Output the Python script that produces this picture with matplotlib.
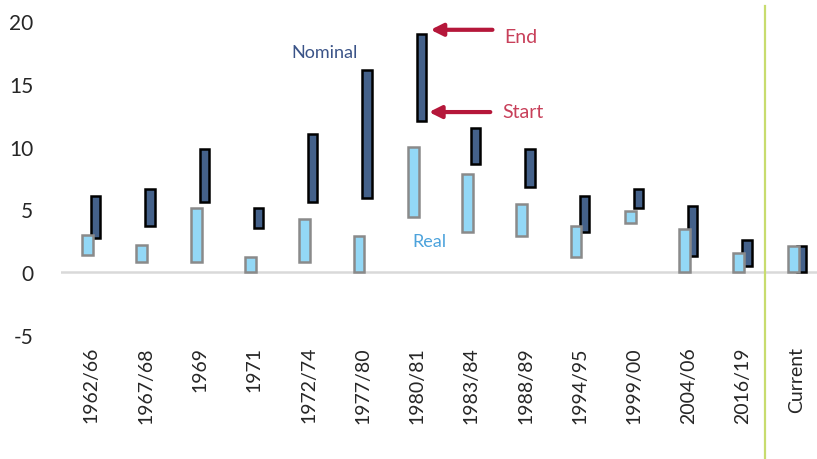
import matplotlib
matplotlib.use("Agg")
import matplotlib.pyplot as plt
import numpy as np

plt.rcParams["font.family"] = ["Lato", "DejaVu Sans"]
plt.rcParams["axes.unicode_minus"] = False

# episodes and start/end values
periods = ["1962/66", "1967/68", "1969", "1971", "1972/74", "1977/80", "1980/81",
           "1983/84", "1988/89", "1994/95", "1999/00", "2004/06", "2016/19", "Current"]
nominal_start = [2.75, 3.7, 5.6, 3.55, 5.6, 5.9, 12.0, 8.6, 6.75, 3.2, 5.1, 1.3, 0.5, 0.0]
nominal_end = [6.1, 6.6, 9.8, 5.1, 11.0, 16.1, 19.0, 11.5, 9.8, 6.1, 6.6, 5.25, 2.55, 2.05]
real_start = [1.4, 0.85, 0.85, 0.0, 0.85, 0.0, 4.4, 3.2, 2.85, 1.2, 3.9, 0.0, 0.0, 0.0]
real_end = [3.0, 2.2, 5.1, 1.2, 4.2, 2.85, 10.0, 7.8, 5.4, 3.7, 4.9, 3.4, 1.5, 2.05]

NOMINAL = "#44618a"
REAL = "#93d8f6"
RED = "#b5173a"

fig = plt.figure(figsize=(8.17, 4.6), dpi=100)
ax = fig.add_axes([61 / 817, 1 - 336 / 460, 1 - 61 / 817, (336 - 22) / 460])

x = np.arange(len(periods))
nom_lo, nom_hi = np.array(nominal_start), np.array(nominal_end)
real_lo, real_hi = np.array(real_start), np.array(real_end)

ax.bar(x + 0.08, nom_hi - nom_lo, bottom=nom_lo, width=0.17,
       color=NOMINAL, edgecolor="black", linewidth=1.8, zorder=2)
ax.bar(x - 0.07, real_hi - real_lo, bottom=real_lo, width=0.2,
       color=REAL, edgecolor="#8a8a8a", linewidth=1.8, zorder=3)

ax.axhline(0, color="#d9d9d9", lw=1.8, zorder=1)

ax.set_xlim(-0.56, 13.37)
ax.set_ylim(-5, 20)
ax.set_yticks([-5, 0, 5, 10, 15, 20])
ax.set_xticks(x)
ax.set_xticklabels(periods, rotation=90, fontsize=14, color="#262626")
ax.tick_params(axis="y", labelsize=15, colors="#262626", length=0, pad=20)
ax.tick_params(axis="x", length=0, pad=8)
for s in ax.spines.values():
    s.set_visible(False)

# separator before "Current"
sep = plt.Line2D([12.42, 12.42], [1.048, -0.4], color="#c8dc6e", lw=1.6,
                 transform=ax.get_xaxis_transform(), clip_on=False)
ax.add_line(sep)

ax.text(4.3, 17.5, "Nominal", color="#3b5488", fontsize=13, ha="center", va="center")
ax.text(6.22, 2.5, "Real", color="#4da3dc", fontsize=13, ha="center", va="center")

arrow = dict(arrowstyle="-|>", color=RED, lw=3, mutation_scale=18, shrinkA=0, shrinkB=0)
ax.annotate("", xy=(6.25, 19.3), xytext=(7.39, 19.3), arrowprops=arrow)
ax.annotate("", xy=(6.22, 12.75), xytext=(7.35, 12.75), arrowprops=arrow)
ax.text(7.61, 18.8, "End", color="#c8405a", fontsize=14, va="center")
ax.text(7.57, 12.8, "Start", color="#c8405a", fontsize=14, va="center")

fig.savefig("out.png", dpi=100)
